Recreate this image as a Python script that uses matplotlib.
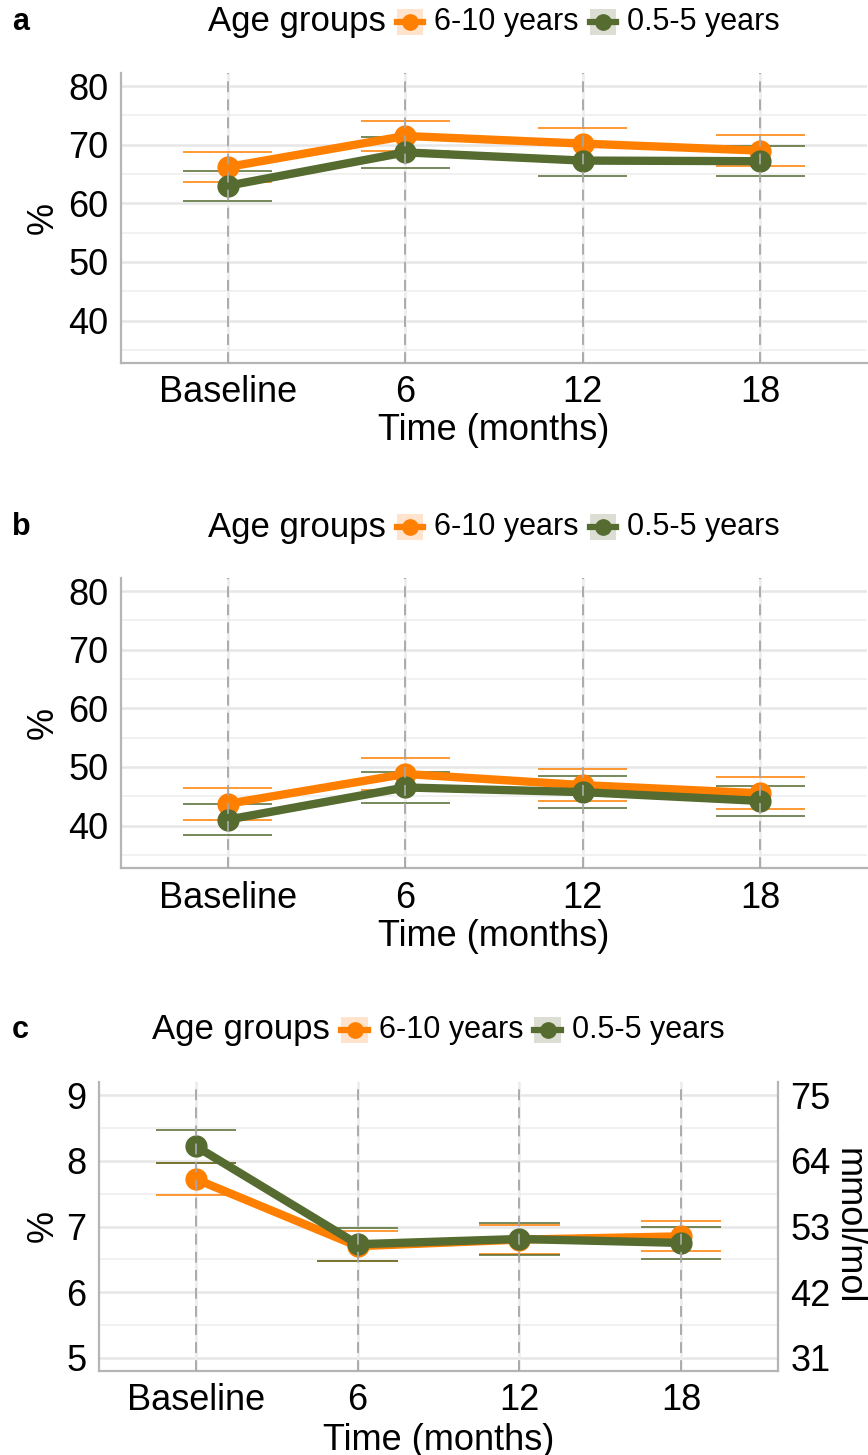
import matplotlib
matplotlib.use("Agg")
import matplotlib.pyplot as plt
import numpy as np
from matplotlib.offsetbox import AnchoredOffsetbox, HPacker, TextArea, DrawingArea
from matplotlib.patches import Rectangle
from matplotlib.lines import Line2D

plt.rcParams['font.family'] = ['Liberation Sans', 'DejaVu Sans']

# data
time_labels = ['Baseline', '6', '12', '18']
group_names = ['6-10 years', '0.5-5 years']

a_older = [66.2, 71.5, 70.2, 69.0]
a_older_err = [2.6, 2.6, 2.6, 2.7]
a_young = [63.0, 68.7, 67.3, 67.2]
a_young_err = [2.6, 2.6, 2.6, 2.6]

b_older = [43.7, 48.8, 46.9, 45.5]
b_older_err = [2.7, 2.7, 2.7, 2.7]
b_young = [41.0, 46.5, 45.7, 44.2]
b_young_err = [2.7, 2.7, 2.7, 2.6]

c_older = [7.72, 6.70, 6.80, 6.85]
c_older_err = [0.24, 0.23, 0.22, 0.23]
c_young = [8.22, 6.73, 6.81, 6.75]
c_young_err = [0.25, 0.25, 0.24, 0.24]

pct_ticks_ab = [40, 50, 60, 70, 80]
pct_ticks_c = [5, 6, 7, 8, 9]

ORANGE = '#FF7F00'
GREEN = '#556B2F'
ORANGE_BG = '#FFE3CC'
GREEN_BG = '#DCDED3'
AXIS_GRAY = '#B5B5B5'
TICK_SIZE = 26

W, H = 868, 1455
fig = plt.figure(figsize=(W / 100, H / 100), dpi=100)


def px_axes(left, top, width, height):
    return fig.add_axes([left / W, 1 - (top + height) / H, width / W, height / H])


def draw_panel(ax, older, older_err, young, young_err, ylim, yticks, minor):
    x = np.arange(len(time_labels))
    ax.set_xlim(-0.6, len(time_labels) - 0.4)
    ax.set_ylim(*ylim)

    for y in minor:
        ax.axhline(y, color='#F0F0F0', lw=1.3, zorder=0)
    for y in yticks:
        ax.axhline(y, color='#E6E6E6', lw=1.8, zorder=0)
    for xi in x:
        ax.axvline(xi, color='#ECECEC', lw=1.8, zorder=0)

    for vals, errs, col in [(older, older_err, ORANGE), (young, young_err, GREEN)]:
        vals = np.array(vals)
        errs = np.array(errs)
        ax.hlines(vals + errs, x - 0.25, x + 0.25, color=col, lw=1.4, alpha=0.8, zorder=2)
        ax.hlines(vals - errs, x - 0.25, x + 0.25, color=col, lw=1.4, alpha=0.8, zorder=2)

    ax.plot(x, older, color=ORANGE, lw=6, marker='o', ms=15, zorder=3, solid_capstyle='butt')
    ax.plot(x, young, color=GREEN, lw=6, marker='o', ms=15, zorder=4, solid_capstyle='butt')

    for xi in x:
        ax.axvline(xi, color='#A6A6A6', lw=1.3, ls=(0, (6, 4)), zorder=6)

    ax.set_xticks(x)
    ax.set_xticklabels(time_labels)
    ax.set_yticks(yticks)
    ax.tick_params(length=0, labelsize=TICK_SIZE, pad=9)
    for s in ['top', 'right']:
        ax.spines[s].set_visible(False)
    for s in ['left', 'bottom']:
        ax.spines[s].set_color(AXIS_GRAY)
        ax.spines[s].set_linewidth(1.6)
    ax.set_xlabel('Time (months)', fontsize=TICK_SIZE)
    ax.set_ylabel('%', fontsize=TICK_SIZE)


def place_labels(ax, ylab_x_px, xlab_y_px):
    pos = ax.get_position()
    w_px = pos.width * W
    h_px = pos.height * H
    ax.yaxis.set_label_coords((ylab_x_px - pos.x0 * W) / w_px, 0.5)
    ax.yaxis.label.set_va('center')
    ax.xaxis.set_label_coords(0.5, -xlab_y_px / h_px)
    ax.xaxis.label.set_va('center')


def legend_key(line_col, bg_col):
    da = DrawingArea(19, 19, 0, 0)
    da.add_artist(Rectangle((0, 0), 19, 19, facecolor=bg_col, edgecolor='none'))
    da.add_artist(Line2D([0, 19], [9.5, 9.5], color=line_col, lw=4.5))
    da.add_artist(Line2D([9.5], [9.5], color=line_col, marker='o', ms=11, lw=0))
    return da


def add_legend(ax, y_px):
    items = [TextArea('Age groups', textprops=dict(fontsize=25)),
             legend_key(ORANGE, ORANGE_BG),
             TextArea(group_names[0], textprops=dict(fontsize=22)),
             legend_key(GREEN, GREEN_BG),
             TextArea(group_names[1], textprops=dict(fontsize=22))]
    box = HPacker(children=items, align='center', pad=0, sep=8)
    pos = ax.get_position()
    anchored = AnchoredOffsetbox(loc='center', child=box, frameon=False, pad=0, borderpad=0,
                                 bbox_to_anchor=((pos.x0 + pos.x1) / 2, 1 - y_px / H),
                                 bbox_transform=fig.transFigure)
    fig.add_artist(anchored)


# panel a
ax_a = px_axes(121, 73, 746, 290)
draw_panel(ax_a, a_older, a_older_err, a_young, a_young_err, (32.75, 82.25),
           pct_ticks_ab, [35, 45, 55, 65, 75])
place_labels(ax_a, 43, 67)
add_legend(ax_a, 22)
fig.text(12 / W, 1 - 22 / H, 'a', fontsize=22, fontweight='bold', va='center')

# panel b
ax_b = px_axes(121, 578, 746, 290)
draw_panel(ax_b, b_older, b_older_err, b_young, b_young_err, (32.75, 82.25),
           pct_ticks_ab, [35, 45, 55, 65, 75])
place_labels(ax_b, 43, 69)
add_legend(ax_b, 527)
fig.text(12 / W, 1 - 527 / H, 'b', fontsize=22, fontweight='bold', va='center')

# panel c
ax_c = px_axes(99, 1082, 679, 289)
draw_panel(ax_c, c_older, c_older_err, c_young, c_young_err, (4.8, 9.2),
           pct_ticks_c, [5.5, 6.5, 7.5, 8.5])
ax_c.spines['right'].set_visible(True)
ax_c.spines['right'].set_color(AXIS_GRAY)
ax_c.spines['right'].set_linewidth(1.6)
place_labels(ax_c, 43, 69)

ax_c2 = ax_c.twinx()
ax_c2.set_ylim(ax_c.get_ylim())
ax_c2.set_yticks(pct_ticks_c)
# mmol/mol = 10.929 * (% - 2.15)
ax_c2.set_yticklabels([f'{10.929 * (p - 2.15):.0f}' for p in pct_ticks_c])
ax_c2.tick_params(length=0, labelsize=TICK_SIZE, pad=9)
for s in ax_c2.spines.values():
    s.set_visible(False)
ax_c2.set_ylabel('mmol/mol', fontsize=TICK_SIZE, rotation=270, va='center')
ax_c2.yaxis.set_label_coords((848 - 99) / 679, 0.5)
add_legend(ax_c, 1030)
fig.text(12 / W, 1 - 1030 / H, 'c', fontsize=22, fontweight='bold', va='center')

fig.savefig('out.png', dpi=100)
